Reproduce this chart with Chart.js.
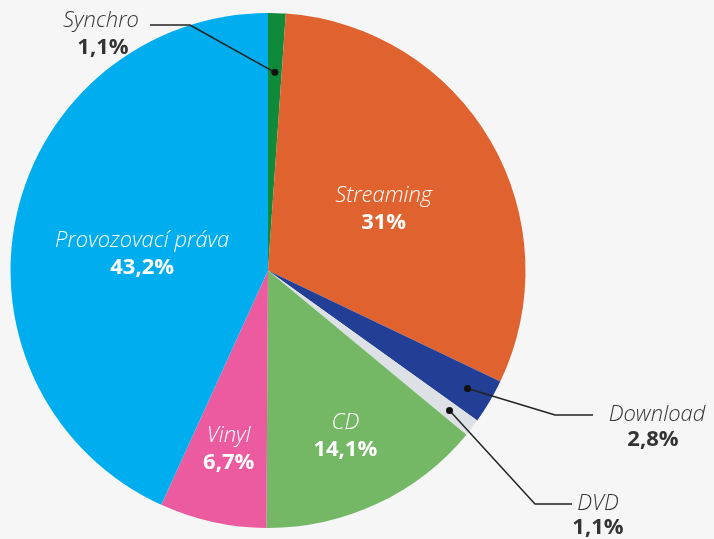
<!DOCTYPE html>
<html>
<head>
<meta charset="utf-8">
<script src="https://cdn.jsdelivr.net/npm/chart.js@4.4.1/dist/chart.umd.min.js"></script>
<style>
  html, body { margin: 0; padding: 0; background: #f6f6f6; }
  #wrap { width: 714px; height: 539px; }
</style>
</head>
<body>
<div id="wrap"><canvas id="podilTrhu"></canvas></div>
<script>
// Podíl segmentů na trhu (v %)
const kategorie = ["Synchro", "Streaming", "Download", "DVD", "CD", "Vinyl", "Provozovací práva"];
const podily = [1.1, 31, 2.8, 1.1, 14.1, 6.7, 43.2];
const popisky = ["1,1%", "31%", "2,8%", "1,1%", "14,1%", "6,7%", "43,2%"];
const barvy = ["#0e8a3a", "#e0622f", "#233f95", "#dde1e6", "#74b866", "#ec5b9f", "#00aeef"];

// kde a jak se popisek kreslí: uvnitř výseče nebo venku s vodicí čarou
const umisteni = [
  { venku: true, bod: 0.77, lom: [190, 25], konec: [150, 25], text: [139, 21], hodnota: [103, 48], zarovnani: "right" },
  { venku: false, r: 0.52, dy: 6 },
  { venku: true, bod: 0.9, lom: [555, 415], konec: [593, 415], text: [657, 415], hodnota: [653, 440], zarovnani: "center" },
  { venku: true, bod: 0.89, lom: [535, 504], konec: [572, 504], text: [598, 504], hodnota: [598, 528], zarovnani: "center" },
  { venku: false, r: 0.71, dy: 0 },
  { venku: false, r: 0.71, dy: 0 },
  { venku: false, r: 0.5, dy: 11 }
];

const FONT_NAZEV = "italic 300 22px 'Open Sans'";
const FONT_HODNOTA = "bold 22px 'Open Sans'";

const popiskyPlugin = {
  id: "popiskyVyseci",
  afterDatasetsDraw(chart) {
    const ctx = chart.ctx;
    const meta = chart.getDatasetMeta(0);
    meta.data.forEach((arc, i) => {
      const p = arc.getProps(["x", "y", "startAngle", "endAngle", "outerRadius"], true);
      const uhel = (p.startAngle + p.endAngle) / 2;
      const u = umisteni[i];
      ctx.save();
      ctx.textBaseline = "middle";
      if (u.venku) {
        const bx = p.x + Math.cos(uhel) * p.outerRadius * u.bod;
        const by = p.y + Math.sin(uhel) * p.outerRadius * u.bod;
        ctx.strokeStyle = "#222";
        ctx.lineWidth = 1.5;
        ctx.beginPath();
        ctx.moveTo(bx, by);
        ctx.lineTo(u.lom[0], u.lom[1]);
        ctx.lineTo(u.konec[0], u.konec[1]);
        ctx.stroke();
        ctx.fillStyle = "#111";
        ctx.beginPath();
        ctx.arc(bx, by, 3.5, 0, Math.PI * 2);
        ctx.fill();
        ctx.fillStyle = "#333";
        ctx.textAlign = u.zarovnani;
        ctx.font = FONT_NAZEV;
        ctx.fillText(kategorie[i], u.text[0], u.text[1]);
        ctx.textAlign = "center";
        ctx.font = FONT_HODNOTA;
        ctx.fillText(popisky[i], u.hodnota[0], u.hodnota[1]);
      } else {
        const tx = p.x + Math.cos(uhel) * p.outerRadius * u.r;
        const ty = p.y + Math.sin(uhel) * p.outerRadius * u.r + u.dy;
        ctx.fillStyle = "#ffffff";
        ctx.textAlign = "center";
        ctx.font = FONT_NAZEV;
        ctx.fillText(kategorie[i], tx, ty - 13);
        ctx.font = FONT_HODNOTA;
        ctx.fillText(popisky[i], tx, ty + 14);
      }
      ctx.restore();
    });
  }
};

new Chart(document.getElementById("podilTrhu"), {
  type: "pie",
  data: {
    labels: kategorie,
    datasets: [{
      data: podily,
      backgroundColor: barvy,
      borderWidth: 0
    }]
  },
  options: {
    responsive: true,
    maintainAspectRatio: false,
    animation: false,
    layout: { padding: { top: 13, bottom: 11, left: 10, right: 188 } },
    plugins: {
      legend: { display: false },
      tooltip: { enabled: false }
    }
  },
  plugins: [popiskyPlugin]
});
</script>
</body>
</html>
